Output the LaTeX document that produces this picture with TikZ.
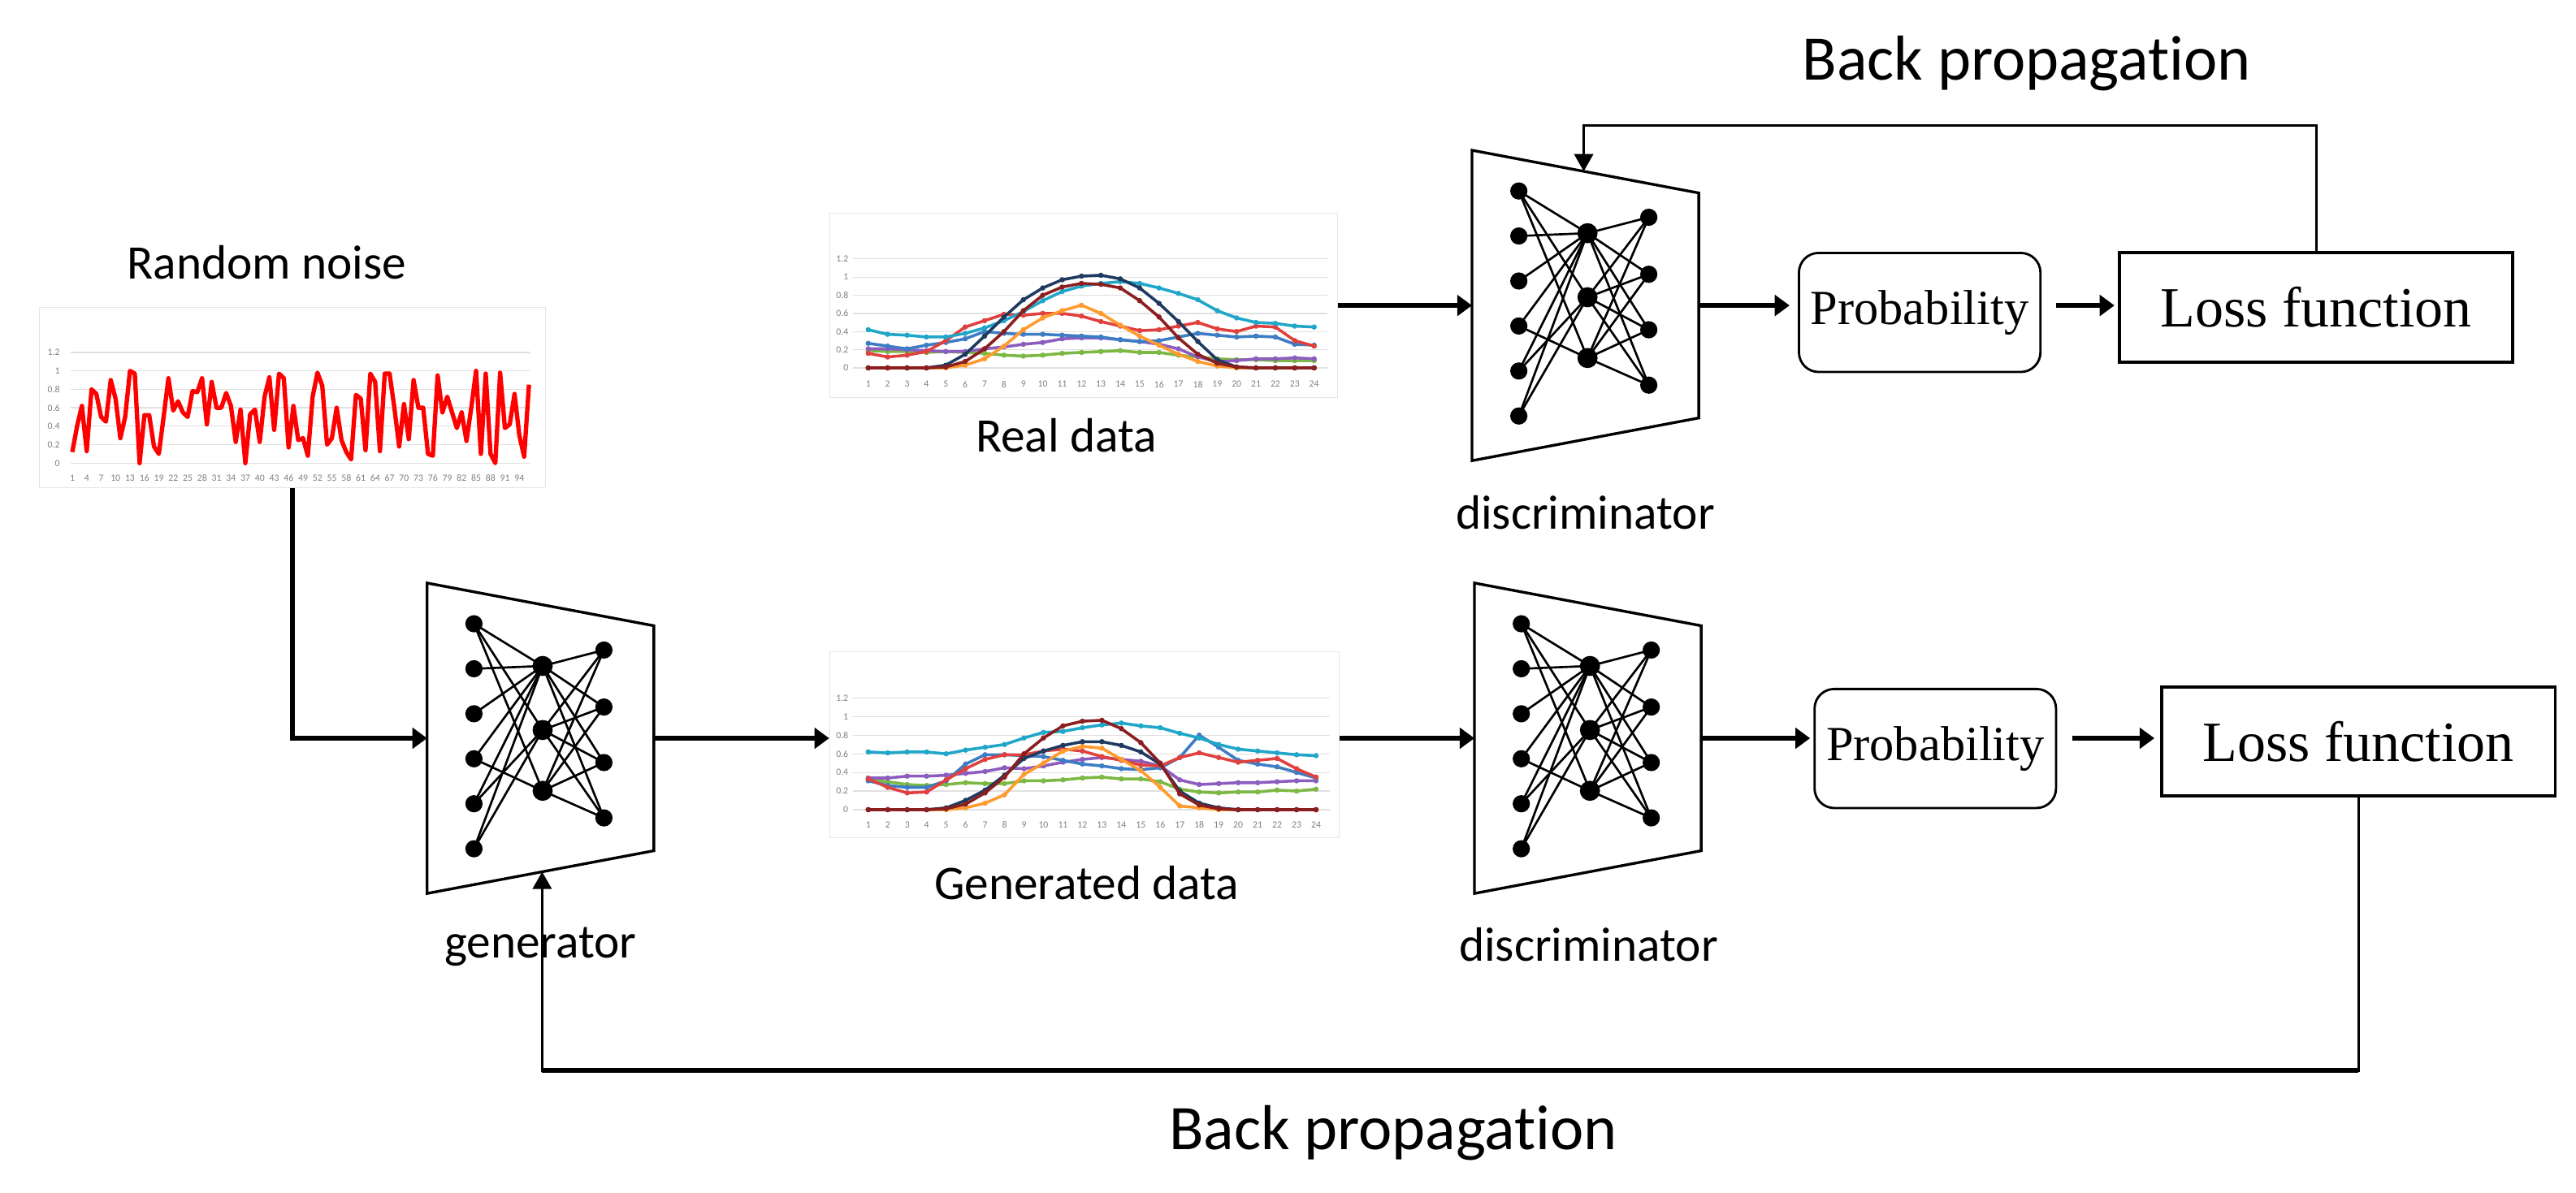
\documentclass[tikz,border=0pt]{standalone}
\usepackage{fontspec}
\usepackage{xcolor}
\usepackage{tikz}
\usetikzlibrary{arrows.meta,calc}

\newfontfamily\lblfont{Carlito}[Ligatures=NoCommon]
\newfontfamily\boxfont{Liberation Serif}

\definecolor{scyan}{HTML}{1FA6C9}
\definecolor{sred}{HTML}{E0413E}
\definecolor{sblue}{HTML}{3C7DC4}
\definecolor{spurple}{HTML}{8C5DBF}
\definecolor{sgreen}{HTML}{7CB843}
\definecolor{sorange}{HTML}{FF9A2E}
\definecolor{snavy}{HTML}{1F3A60}
\definecolor{smaroon}{HTML}{8B1E1E}

% series values
\def\noiseVals{{0.12,0.4,0.62,0.13,0.8,0.75,0.5,0.45,0.9,0.7,0.27,0.5,1.0,0.97,0.0,0.52,0.52,0.18,0.1,0.5,0.92,0.57,0.67,0.55,0.5,0.78,0.77,0.92,0.42,0.88,0.6,0.6,0.76,0.62,0.23,0.58,0.0,0.53,0.58,0.23,0.72,0.93,0.36,0.97,0.92,0.17,0.62,0.25,0.27,0.08,0.72,0.98,0.84,0.2,0.27,0.6,0.25,0.12,0.04,0.74,0.7,0.14,0.97,0.88,0.13,0.97,0.97,0.6,0.18,0.64,0.26,0.9,0.6,0.6,0.1,0.08,0.95,0.55,0.72,0.55,0.38,0.55,0.24,0.6,1.0,0.1,0.97,0.1,0.0,0.98,0.38,0.42,0.75,0.3,0.07,0.85}}

\def\rdCyan{{0.42,0.37,0.36,0.34,0.34,0.38,0.44,0.52,0.62,0.74,0.84,0.90,0.93,0.95,0.93,0.88,0.82,0.75,0.63,0.55,0.50,0.49,0.46,0.45}}
\def\rdRed{{0.16,0.12,0.14,0.18,0.30,0.45,0.52,0.59,0.58,0.60,0.60,0.57,0.51,0.46,0.41,0.42,0.46,0.50,0.43,0.40,0.46,0.45,0.30,0.24}}
\def\rdBlue{{0.27,0.24,0.21,0.25,0.28,0.32,0.40,0.38,0.37,0.37,0.36,0.35,0.34,0.31,0.29,0.30,0.34,0.38,0.36,0.34,0.35,0.34,0.26,0.25}}
\def\rdPurple{{0.21,0.21,0.20,0.19,0.18,0.18,0.21,0.23,0.26,0.28,0.32,0.33,0.33,0.31,0.29,0.26,0.21,0.12,0.07,0.08,0.10,0.10,0.11,0.10}}
\def\rdGreen{{0.19,0.18,0.18,0.17,0.18,0.17,0.16,0.14,0.13,0.14,0.16,0.17,0.18,0.19,0.17,0.17,0.14,0.12,0.10,0.09,0.09,0.08,0.08,0.08}}
\def\rdOrange{{0,0,0,0,0,0.03,0.10,0.24,0.42,0.55,0.63,0.69,0.60,0.47,0.35,0.25,0.15,0.07,0.02,0,0,0,0,0}}
\def\rdNavy{{0,0,0,0,0.03,0.15,0.35,0.56,0.75,0.88,0.97,1.01,1.02,0.98,0.88,0.71,0.51,0.29,0.09,0.01,0,0,0,0}}
\def\rdMaroon{{0,0,0,0,0.01,0.07,0.21,0.40,0.63,0.80,0.89,0.93,0.92,0.88,0.74,0.56,0.33,0.15,0.05,0.01,0,0,0,0}}

\def\gdCyan{{0.62,0.61,0.62,0.62,0.60,0.64,0.67,0.70,0.77,0.83,0.84,0.88,0.91,0.93,0.90,0.88,0.82,0.77,0.70,0.65,0.63,0.61,0.59,0.58}}
\def\gdRed{{0.33,0.24,0.18,0.19,0.32,0.44,0.54,0.59,0.59,0.63,0.65,0.63,0.57,0.53,0.48,0.47,0.56,0.61,0.56,0.51,0.53,0.55,0.44,0.35}}
\def\gdBlue{{0.31,0.26,0.24,0.24,0.31,0.49,0.59,0.59,0.58,0.57,0.53,0.49,0.47,0.44,0.43,0.45,0.56,0.80,0.67,0.53,0.49,0.46,0.40,0.34}}
\def\gdPurple{{0.34,0.34,0.36,0.36,0.37,0.39,0.41,0.45,0.44,0.47,0.51,0.54,0.56,0.54,0.52,0.47,0.32,0.27,0.28,0.29,0.29,0.30,0.31,0.31}}
\def\gdGreen{{0.32,0.30,0.27,0.26,0.27,0.29,0.28,0.28,0.31,0.31,0.32,0.34,0.35,0.33,0.33,0.30,0.22,0.19,0.18,0.19,0.19,0.21,0.20,0.22}}
\def\gdOrange{{0,0,0,0,0,0.02,0.07,0.16,0.38,0.50,0.63,0.68,0.66,0.54,0.42,0.24,0.04,0.02,0,0,0,0,0,0}}
\def\gdNavy{{0,0,0,0,0.02,0.10,0.21,0.37,0.55,0.63,0.69,0.73,0.73,0.69,0.62,0.49,0.20,0.07,0.02,0,0,0,0,0}}
\def\gdMaroon{{0,0,0,0,0.01,0.06,0.18,0.35,0.60,0.77,0.90,0.95,0.96,0.87,0.72,0.50,0.17,0.05,0.01,0,0,0,0,0}}

\tikzset{
	pics/gan_net/.style={code={
		% trapezoid frame
		\draw[box_line] (0,0) -- (138,26) -- (138,163) -- (0,189) -- cycle;
		\coordinate (-in) at (0,94.5);
		\coordinate (-out) at (138,94.5);
		\coordinate (-top) at (68,12.8);
		\coordinate (-bot) at (70,175.8);
		% layers
		\foreach \j/\yy in {1/24.8,2/52.2,3/79.6,4/107,5/134.4,6/161.8}
			\node[net_node] (-l\j) at (28.5,\yy) {};
		\foreach \j/\yy in {1/50.5,2/89.5,3/126.5}
			\node[mid_node] (-m\j) at (70.3,\yy) {};
		\foreach \j/\yy in {1/40.8,2/75.5,3/109.3,4/143}
			\node[net_node] (-r\j) at (107.6,\yy) {};
		% weights
		\foreach \a/\b in {1/1,1/2,1/3,2/1,3/1,4/1,4/3,5/1,5/2,6/1,6/2}
			\draw[net_edge] (-l\a.center) -- (-m\b.center);
		\foreach \a in {1,2,3}
			\foreach \b in {1,...,4}
				\draw[net_edge] (-m\a.center) -- (-r\b.center);
	}}
}

\begin{document}
\begin{tikzpicture}[
	x=0.2mm, y=-0.2mm,
	title_text/.style={inner sep=0pt, font=\lblfont\fontsize{22}{26}\selectfont},
	lbl_text/.style={inner sep=0pt, font=\lblfont\fontsize{16.7}{20}\selectfont},
	tick_label/.style={inner sep=0pt, font=\lblfont\fontsize{3.3}{4}\selectfont, text=black!50},
	chart_box/.style={draw=black!10, line width=0.3pt, inner sep=0pt},
	grid_line/.style={draw=black!12, line width=0.35pt},
	data_line/.style={draw=#1, line width=1pt, line join=round,
		mark=*, mark size=0.8pt, mark options={fill=#1, draw=#1, line width=0.2pt}},
	noise_line/.style={draw=red, line width=1.5pt, line join=round},
	box_line/.style={draw, line width=0.95pt, fill=white},
	net_node/.style={circle, fill=black, inner sep=0pt, minimum size=2.1mm},
	mid_node/.style={circle, fill=black, inner sep=0pt, minimum size=2.45mm},
	net_edge/.style={line width=0.75pt},
	prob_box/.style={draw, rounded corners=2.4mm, line width=0.8pt, inner sep=0pt,
		font=\boxfont\fontsize{17}{20}\selectfont, minimum width=29.4mm, minimum height=14.5mm},
	loss_box/.style={draw, line width=1.1pt, inner sep=0pt,
		font=\boxfont\fontsize{19.7}{23}\selectfont, minimum width=47.9mm, minimum height=13.3mm},
	flow_arrow/.style={-{Triangle[length=1.8mm,width=2.5mm]}, line width=1.5pt},
	back_arrow/.style={-{Triangle[length=2.1mm,width=2.3mm]}, line width=0.9pt}
	]
	\useasboundingbox (0,0) rectangle (1568,726);
	\fill[white] (0,0) rectangle (1568,726);

	% --- networks ---
	\pic (gen) at (260,355) {gan_net};
	\pic (topD) at (896,91.5) {gan_net};
	\pic (botD) at (897.5,355) {gan_net};

	% --- chart frames ---
	\node[chart_box, minimum width=61.6mm, minimum height=22mm] (noise) at (178,242) {};
	\node[chart_box, minimum width=61.8mm, minimum height=22.4mm] (real) at (659.5,186) {};
	\node[chart_box, minimum width=62mm, minimum height=22.6mm] (gdata) at (660,453.5) {};

	% random noise chart
	\begin{scope}[shift={(44,282)}, x=0.5852mm, y=11.24mm]
		\foreach \g [count=\n] in {0,0.2,0.4,0.6,0.8,1,1.2} {
			\draw[grid_line] (-0.34,\g) -- (95.35,\g);
			\node[tick_label, anchor=east] (noise_y\n) at (-2.5,\g) {\g};
		}
		\foreach \i in {1,4,...,94}
			\node[tick_label] (noise_x\i) at (\i-1,-0.16) {\i};
		\draw[noise_line] plot[variable=\k, samples at={0,...,95}] (\k,{\noiseVals[int(\k)]});
	\end{scope}

	% real data chart
	\begin{scope}[shift={(528.5,224)}, x=2.36mm, y=11.06mm]
		\foreach \g [count=\n] in {0,0.2,0.4,0.6,0.8,1,1.2} {
			\draw[grid_line] (-0.8,\g) -- (23.7,\g);
			\node[tick_label, anchor=east] (real_y\n) at (-1.0,\g) {\g};
		}
		\foreach \i in {1,...,24}
			\node[tick_label] (real_x\i) at (\i-1,-0.18) {\i};
		\foreach \c/\v in {sgreen/\rdGreen, spurple/\rdPurple, sblue/\rdBlue, sred/\rdRed,
				scyan/\rdCyan, sorange/\rdOrange, snavy/\rdNavy, smaroon/\rdMaroon}
			\draw[data_line=\c] plot[variable=\k, samples at={0,...,23}] (\k,{\v[int(\k)]});
	\end{scope}

	% generated data chart
	\begin{scope}[shift={(528.5,493)}, x=2.37mm, y=11.34mm]
		\foreach \g [count=\n] in {0,0.2,0.4,0.6,0.8,1,1.2} {
			\draw[grid_line] (-0.8,\g) -- (23.7,\g);
			\node[tick_label, anchor=east] (gdata_y\n) at (-1.0,\g) {\g};
		}
		\foreach \i in {1,...,24}
			\node[tick_label] (gdata_x\i) at (\i-1,-0.16) {\i};
		\foreach \c/\v in {sgreen/\gdGreen, spurple/\gdPurple, sblue/\gdBlue, sred/\gdRed,
				scyan/\gdCyan, sorange/\gdOrange, snavy/\gdNavy, smaroon/\gdMaroon}
			\draw[data_line=\c] plot[variable=\k, samples at={0,...,23}] (\k,{\v[int(\k)]});
	\end{scope}

	% --- boxes ---
	\node[prob_box] (probT) at (1168.5,190.25) {Probability};
	\node[loss_box] (lossT) at (1409.8,187.25) {Loss function};
	\node[prob_box] (probB) at (1178,455.75) {Probability};
	\node[loss_box] (lossB) at (1435.6,451.5) {Loss function};

	% --- labels ---
	\node[title_text, anchor=base] (bp_top_lbl) at (1233.5,48.6) {Back propagation};
	\node[title_text, anchor=base] (bp_bot_lbl) at (848,699.7) {Back propagation};
	\node[lbl_text, anchor=base west] (noise_lbl) at (77,170) {Random noise};
	\node[lbl_text, anchor=base] (real_lbl) at (649,275.4) {Real data};
	\node[lbl_text, anchor=base] (gdata_lbl) at (661.5,547.5) {Generated data};
	\node[lbl_text, anchor=base] (gen_lbl) at (329,583) {generator};
	\node[lbl_text, anchor=base] (topD_lbl) at (965,322) {discriminator};
	\node[lbl_text, anchor=base] (botD_lbl) at (967,585) {discriminator};

	% --- forward arrows ---
	\draw[flow_arrow] (noise.south) |- (gen-in);
	\draw[flow_arrow] (gen-out) -- (gen-out -| gdata.west);
	\draw[flow_arrow] (gdata.east |- botD-in) -- (botD-in);
	\draw[flow_arrow] (real.east |- topD-in) -- (topD-in);
	\draw[flow_arrow, shorten >=1mm] (topD-out) -- (topD-out -| probT.west);
	\draw[flow_arrow, shorten <=1.8mm, shorten >=0.4mm] (probT.east |- topD-out) -- (lossT.west |- topD-out);
	\draw[flow_arrow, shorten >=0.4mm] (botD-out) -- (botD-out -| probB.west);
	\draw[flow_arrow, shorten <=1.8mm, shorten >=0.7mm] (probB.east |- botD-out) -- (lossB.west |- botD-out);

	% --- back propagation ---
	\coordinate (bp_top) at (1233.5,76.6);
	\coordinate (bp_bot) at (848,651.8);
	\draw[back_arrow] (lossT.north) |- (bp_top) -| (topD-top);
	\draw[back_arrow] (lossB.south) |- (bp_bot) -| (gen-bot);
	\draw[line width=1.8pt] (lossB.south |- bp_bot) -- (gen-bot |- bp_bot);
\end{tikzpicture}
\end{document}
